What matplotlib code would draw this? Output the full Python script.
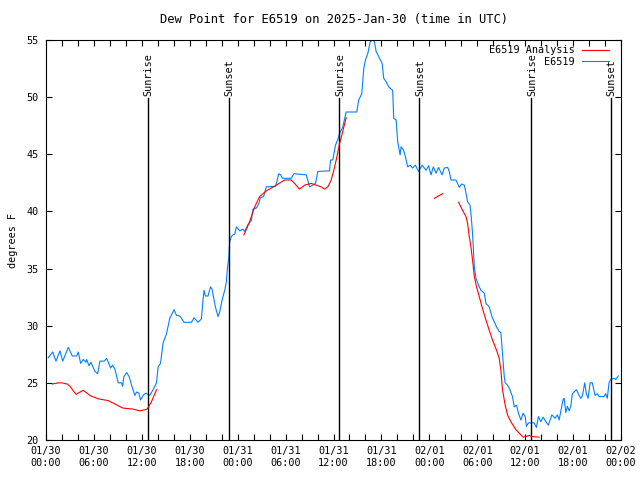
import numpy as np
import matplotlib
matplotlib.use("Agg")
import matplotlib.pyplot as plt

# hours since 2025-01-30 00:00 UTC
obs_hours = [0.29, 0.84, 1.25, 1.75, 2.09, 2.79, 3.29, 3.84, 4.04, 4.34, 4.66, 5.0, 5.09, 5.38, 5.63,
             6.13, 6.46, 6.75, 7.29, 7.59, 8.09, 8.34, 8.63, 9.04, 9.46, 9.59, 9.75, 10.09, 10.41,
             10.71, 11.13, 11.34, 11.63, 11.84, 12.16, 12.5, 13.0, 13.41, 13.84, 14.04, 14.34, 14.66,
             15.09, 15.5, 16.04, 16.34, 16.75, 16.96, 17.29, 18.21, 18.54, 19.04, 19.46, 19.66, 19.79,
             19.96, 20.29, 20.59, 20.79, 21.04, 21.21, 21.54, 21.75, 21.96, 22.16, 22.38, 22.59, 22.71,
             22.88, 23.0, 23.21, 23.41, 23.63, 23.84, 24.25, 24.66, 24.88, 25.29, 25.71, 25.91, 26.34,
             26.66, 26.84, 27.25, 27.59, 28.75, 28.91, 29.13, 29.38, 29.59, 30.71, 31.04, 32.59, 33.0,
             33.41, 33.75, 34.04, 35.5, 35.63, 35.91, 36.25, 36.54, 36.75, 37.16, 37.59, 38.91, 39.16,
             39.54, 39.79, 40.0, 40.29, 40.59, 40.91, 41.13, 41.34, 41.66, 42.09, 42.29, 42.59, 42.91,
             43.41, 43.54, 43.84, 44.04, 44.34, 44.46, 44.75, 45.0, 45.29, 45.59, 45.91, 46.25, 46.66,
             47.09, 47.59, 47.91, 48.21, 48.5, 48.84, 49.16, 49.59, 49.88, 50.29, 50.5, 50.71, 51.34,
             51.54, 51.75, 52.04, 52.38, 52.59, 52.79, 53.09, 53.21, 53.41, 53.63, 53.84, 54.16, 54.46,
             54.88, 55.09, 55.5, 55.84, 56.13, 56.41, 56.75, 56.96, 57.16, 57.38, 57.5, 57.79, 58.09,
             58.41, 58.63, 58.91, 59.16, 59.46, 59.75, 60.0, 60.16, 60.41, 61.13, 61.41, 61.66, 61.96,
             62.25, 62.59, 62.91, 63.34, 63.75, 64.04, 64.25, 64.46, 64.75, 64.88, 65.09, 65.29, 65.5,
             65.71, 65.91, 66.41, 66.75, 66.96, 67.16, 67.46, 67.66, 67.88, 68.13, 68.41, 68.75, 69.04,
             69.25, 69.88, 70.09, 70.29, 70.5, 70.71, 71.13, 71.34, 71.66]
obs_dewpt = [27.2, 27.7, 26.9, 27.8, 26.9, 28.1, 27.35, 27.35, 27.7, 26.7, 27.05, 26.8, 27.05, 26.5, 26.8,
             26.0, 25.8, 26.9, 26.9, 27.15, 26.3, 26.55, 26.2, 25.0, 25.0, 24.7, 25.55, 25.9, 25.55,
             24.8, 23.9, 24.2, 24.1, 23.5, 23.9, 24.1, 23.9, 24.4, 25.0, 26.4, 26.7, 28.5,
             29.3, 30.65, 31.4, 30.9, 30.85, 30.65, 30.3, 30.3, 30.7, 30.3, 30.6, 32.25, 33.1,
             32.6, 32.6, 33.4, 33.2, 32.25, 31.65, 30.8, 31.2, 31.95, 32.55, 33.1, 33.85, 35.0,
             35.9, 37.35, 37.8, 37.95, 38.0, 38.65, 38.3, 38.45, 38.25, 38.85, 39.2, 40.2, 40.3,
             40.7, 41.2, 41.3, 42.15, 42.2, 42.6, 43.3, 43.2, 42.9, 42.9, 43.3, 43.2, 42.15,
             42.3, 42.45, 43.5, 43.55, 44.5, 44.5, 45.8, 46.3, 46.8, 47.4, 48.7, 48.7, 49.75,
             50.3, 52.5, 53.25, 53.8, 54.85, 55.0, 54.85, 54.0, 53.55, 52.95, 51.65, 51.35, 50.9,
             50.6, 48.15, 48.0, 46.1, 44.95, 45.65, 45.4, 44.8, 43.9, 44.05, 43.8, 44.05, 43.5,
             44.05, 43.6, 44.0, 43.2, 43.9, 43.35, 43.85, 43.2, 43.8, 43.85, 43.5, 42.75, 42.75,
             42.45, 42.1, 42.4, 42.3, 41.6, 40.85, 40.55, 39.85, 38.1, 35.2, 34.15, 33.55, 33.1,
             32.85, 31.95, 31.65, 30.8, 30.35, 29.9, 29.5, 29.4, 27.6, 25.55, 25.0, 24.8, 24.4,
             23.8, 22.9, 23.05, 22.35, 21.75, 22.35, 22.05, 21.2, 21.5, 21.5, 21.1, 22.05, 21.6,
             22.0, 21.6, 21.3, 22.2, 21.9, 22.2, 21.75, 22.5, 23.55, 23.65, 22.4, 22.95, 22.55,
             22.95, 24.05, 24.4, 23.9, 23.65, 23.85, 25.0, 24.05, 23.65, 25.0, 25.0, 23.9, 24.05,
             23.8, 23.8, 24.05, 23.65, 25.0, 25.3, 25.4, 25.3, 25.6]

# analysis series, None = gap in the data
ana_hours = [0.79, 1.54, 1.96, 2.66, 3.0, 3.75, 4.66, 5.5, 6.54, 7.79, 8.63, 9.59, 10.91, 11.75, 12.66,
             13.21, 13.84, 14.0,
             24.79, 25.5, 26.13, 26.75, 27.59, 28.84, 29.88, 30.71, 31.13, 31.75, 32.38, 33.21, 33.84,
             34.46, 34.88, 35.29, 35.71, 36.04, 36.34, 36.75, 37.16, 37.59, 37.7,
             48.63, 49.66, 49.8,
             51.66, 52.16, 52.59, 52.79, 53.0, 53.21, 53.41, 53.63, 53.91, 54.25, 54.66, 55.09, 55.5,
             55.91, 56.34, 56.75, 56.96, 57.16, 57.5, 57.79, 58.21, 58.84, 59.46, 59.75, 60.09, 60.5,
             60.91, 61.75]
ana_dewpt = [24.9, 25.0, 25.0, 24.9, 24.7, 24.0, 24.35, 23.9, 23.6, 23.45, 23.15, 22.8, 22.7, 22.55, 22.7,
             23.35, 24.4, None,
             37.95, 39.1, 40.4, 41.3, 41.8, 42.3, 42.75, 42.75, 42.45, 41.95, 42.3, 42.45, 42.3,
             42.15, 41.95, 42.15, 42.75, 43.6, 44.5, 45.9, 47.0, 48.2, None,
             41.15, 41.55, None,
             40.8, 40.1, 39.55, 38.95, 37.8, 36.9, 35.75, 34.3, 33.4, 32.55, 31.5, 30.5, 29.6,
             28.75, 28.0, 27.15, 26.1, 24.4, 23.05, 22.2, 21.6, 20.9, 20.45, 20.25, 20.3, 20.4,
             20.3, 20.25]

sunrise_hours = [12.75, 36.75, 60.75]
sunset_hours = [22.875, 46.75, 70.75]

tick_hours = list(range(0, 73, 2))
label_hours = list(range(0, 73, 6))
tick_labels = ["01/30\n00:00", "01/30\n06:00", "01/30\n12:00", "01/30\n18:00",
               "01/31\n00:00", "01/31\n06:00", "01/31\n12:00", "01/31\n18:00",
               "02/01\n00:00", "02/01\n06:00", "02/01\n12:00", "02/01\n18:00",
               "02/02\n00:00"]

plt.rcParams["font.family"] = "DejaVu Sans Mono"
plt.rcParams["font.size"] = 7.3

fig = plt.figure(figsize=(6.4, 4.8), dpi=100)
ax = fig.add_axes([46 / 640, 40 / 480, 575 / 640, 400 / 480])

ana_y = np.array([np.nan if v is None else v for v in ana_dewpt], dtype=float)
ax.plot(ana_hours, ana_y, color="#ff0000", lw=0.8, label="E6519 Analysis", zorder=3)
ax.plot(obs_hours, obs_dewpt, color="#0080ff", lw=0.8, label="E6519", zorder=2)

# sunrise / sunset markers
for h in sunrise_hours:
    ax.plot([h, h], [20, 49.9], color="black", lw=1.0)
    ax.text(h + 0.1, 50.1, "Sunrise", rotation=90, ha="center", va="bottom")
for h in sunset_hours:
    ax.plot([h, h], [20, 49.9], color="black", lw=1.0)
    ax.text(h + 0.1, 50.1, "Sunset", rotation=90, ha="center", va="bottom")

ax.set_xlim(0, 72)
ax.set_ylim(20, 55)
ax.set_xticks(tick_hours)
ax.set_xticklabels([tick_labels[label_hours.index(h)] if h in label_hours else "" for h in tick_hours])
ax.set_yticks(range(20, 56, 5))
ax.tick_params(direction="in", top=True, right=True, length=4, width=0.8)
ax.tick_params(axis="y", pad=5.5)
ax.tick_params(axis="x", pad=4.5)
for s in ax.spines.values():
    s.set_linewidth(0.8)

ax.set_title("Dew Point for E6519 on 2025-Jan-30 (time in UTC)", pad=12)
ax.set_ylabel("degrees F", labelpad=6)

ax.legend(loc="upper right", bbox_to_anchor=(1 - 7 / 575, 1), frameon=False, markerfirst=False,
          handlelength=2.7, handletextpad=0.7, labelspacing=0.15, borderaxespad=0.2, borderpad=0.3)

plt.savefig("out.png", dpi=100)
